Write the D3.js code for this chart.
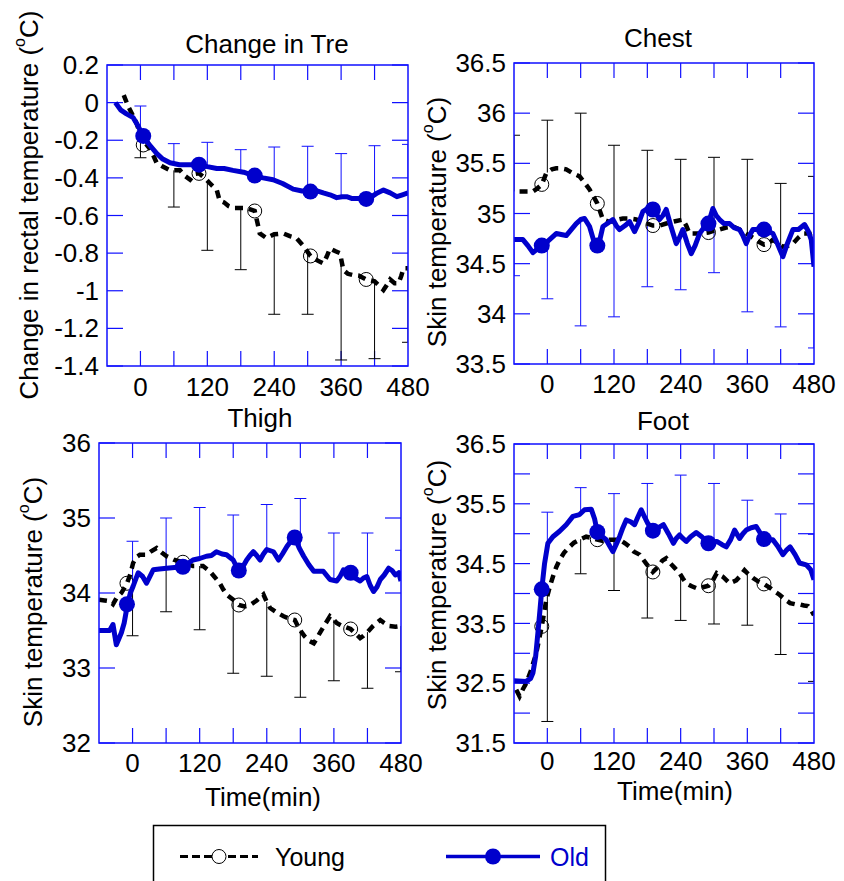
<!DOCTYPE html>
<html>
<head>
<meta charset="utf-8">
<title>Young vs Old - rectal and skin temperature</title>
<script src="https://cdnjs.cloudflare.com/ajax/libs/d3/7.9.0/d3.min.js"></script>
<style>
 body { margin: 0; background: #fff; }
 svg { display: block; font-family: Arial, "Liberation Sans", sans-serif; }
</style>
</head>
<body>
<svg width="844" height="881"></svg>
<script>
// time axis (min)
const timeDomain = [-60, 480];
const timeTickMarks = [0, 60, 120, 180, 240, 300, 360, 420];
const timeTickLabels = [0, 120, 240, 360, 480];

// ---- Change in Tre ----
const treTicks = [0.2, 0, -0.2, -0.4, -0.6, -0.8, -1, -1.2, -1.4];
const treLabels = treTicks;
const treOld = [[-45,0.0],[-35,-0.04],[-25,-0.06],[-13,-0.08],[-5,-0.12],[5,-0.18],[15,-0.22],[29,-0.27],[40,-0.30],[53,-0.32],[70,-0.33],[83,-0.33],[95,-0.33],[105,-0.33],[120,-0.34],[137,-0.35],[150,-0.35],[166,-0.36],[185,-0.37],[205,-0.39],[220,-0.40],[238,-0.41],[255,-0.43],[274,-0.46],[290,-0.47],[305,-0.47],[318,-0.47],[328,-0.48],[340,-0.49],[352,-0.505],[362,-0.50],[370,-0.50],[380,-0.51],[395,-0.51],[405,-0.51],[415,-0.50],[425,-0.48],[436,-0.465],[448,-0.48],[460,-0.50],[470,-0.49],[480,-0.48]];
const treYoung = [[-30,0.04],[-22,-0.02],[-15,-0.06],[-7,-0.11],[0,-0.17],[5,-0.225],[10,-0.22],[17,-0.245],[23,-0.28],[29,-0.32],[40,-0.34],[53,-0.36],[62,-0.36],[71,-0.36],[80,-0.39],[89,-0.41],[97,-0.38],[105,-0.376],[115,-0.40],[125,-0.43],[137,-0.465],[142,-0.52],[150,-0.53],[158,-0.55],[166,-0.56],[178,-0.56],[190,-0.56],[205,-0.576],[210,-0.64],[214,-0.695],[226,-0.72],[240,-0.70],[256,-0.695],[268,-0.71],[280,-0.72],[292,-0.76],[305,-0.815],[318,-0.84],[328,-0.855],[334,-0.82],[340,-0.775],[350,-0.79],[358,-0.80],[364,-0.89],[372,-0.91],[380,-0.916],[392,-0.92],[405,-0.94],[420,-0.95],[436,-0.996],[442,-0.97],[448,-0.94],[456,-0.96],[463,-0.96],[468,-0.92],[472,-0.88],[480,-0.88]];
const treOldMarks = [[5,-0.177],[105,-0.33],[205,-0.388],[305,-0.473],[405,-0.512]];
const treYoungMarks = [[5,-0.225],[105,-0.376],[205,-0.576],[305,-0.815],[405,-0.94]];
const treOldErr = [[0,-0.018],[60,-0.218],[120,-0.211],[180,-0.25],[240,-0.236],[300,-0.232],[360,-0.271],[420,-0.229],[480,-0.222]];
const treYoungErr = [[0,-0.293],[60,-0.555],[120,-0.785],[180,-0.888],[240,-1.125],[300,-1.125],[360,-1.368],[420,-1.361],[480,-1.274]];

// ---- Chest ----
const chestTicks = [33.5, 34, 34.5, 35, 35.5, 36, 36.5];
const chestLabels = chestTicks;
const chestOld = [[-60,34.74],[-44,34.74],[-35,34.68],[-26,34.61],[-10,34.68],[0,34.72],[8,34.76],[16,34.80],[25,34.79],[34,34.78],[43,34.84],[52,34.90],[60,34.94],[67,34.95],[76,34.87],[84,34.72],[90,34.68],[95,34.75],[100,34.87],[108,34.90],[118,34.94],[124,34.88],[130,34.84],[140,34.88],[148,34.92],[157,34.82],[164,34.90],[172,35.02],[180,35.05],[190,35.04],[196,35.00],[202,34.94],[208,34.98],[214,35.04],[222,34.88],[232,34.70],[238,34.76],[244,34.84],[252,34.70],[259,34.60],[266,34.68],[274,34.80],[282,34.86],[290,34.90],[298,35.05],[304,34.98],[310,34.94],[318,34.90],[328,34.90],[336,34.86],[346,34.84],[352,34.78],[358,34.70],[364,34.78],[370,34.84],[380,34.84],[390,34.84],[398,34.82],[406,34.80],[414,34.70],[424,34.57],[432,34.70],[442,34.84],[452,34.84],[463,34.89],[470,34.82],[475,34.74],[480,34.47]];
const chestYoung = [[-50,35.22],[-38,35.22],[-26,35.22],[-18,35.25],[-10,35.29],[-2,35.40],[8,35.44],[16,35.45],[25,35.45],[34,35.44],[46,35.40],[58,35.37],[68,35.30],[76,35.24],[84,35.16],[90,35.10],[95,35.02],[100,34.94],[110,34.92],[118,34.92],[128,34.94],[136,34.95],[148,34.95],[160,34.94],[175,34.91],[190,34.88],[202,34.88],[214,34.90],[228,34.92],[244,34.94],[250,34.88],[256,34.80],[265,34.80],[274,34.80],[290,34.81],[300,34.83],[310,34.84],[322,34.86],[334,34.87],[346,34.84],[358,34.80],[370,34.76],[380,34.72],[390,34.69],[398,34.70],[406,34.74],[416,34.70],[424,34.67],[434,34.68],[442,34.70],[452,34.76],[460,34.80],[472,34.80],[480,34.67]];
const chestOldMarks = [[-10,34.68],[90,34.68],[190,35.04],[290,34.90],[390,34.84]];
const chestYoungMarks = [[-10,35.29],[90,35.10],[190,34.88],[290,34.81],[390,34.69]];
const chestOldErr = [[-60,34.38],[0,34.15],[60,33.88],[120,33.97],[180,34.27],[240,34.24],[300,34.41],[360,34.02],[420,33.87],[480,33.66]];
const chestYoungErr = [[-60,35.78],[0,35.93],[60,36.0],[120,35.68],[180,35.63],[240,35.54],[300,35.56],[360,35.54],[420,35.3],[480,35.37]];

// ---- Thigh ----
const thighTicks = [32, 33, 34, 35, 36];
const thighLabels = thighTicks;
const thighOld = [[-60,33.50],[-41,33.50],[-35,33.58],[-29,33.31],[-20,33.47],[-15,33.60],[-9,33.85],[-4,34.00],[1,34.09],[10,34.27],[18,34.22],[25,34.13],[31,34.22],[37,34.31],[48,34.32],[61,34.33],[75,34.34],[90,34.35],[100,34.40],[108,34.44],[120,34.46],[132,34.49],[141,34.50],[150,34.55],[160,34.52],[168,34.51],[180,34.44],[186,34.35],[190,34.30],[198,34.36],[204,34.44],[210,34.50],[216,34.55],[222,34.50],[228,34.44],[234,34.52],[240,34.58],[252,34.55],[261,34.44],[268,34.52],[276,34.62],[284,34.70],[290,34.74],[298,34.60],[306,34.49],[315,34.38],[324,34.29],[333,34.29],[341,34.29],[353,34.18],[365,34.16],[371,34.22],[377,34.31],[390,34.27],[398,34.20],[407,34.16],[413,34.20],[419,34.22],[425,34.10],[431,34.02],[437,34.08],[443,34.18],[450,34.24],[458,34.33],[464,34.30],[470,34.24],[476,34.27],[480,34.16]];
const thighYoung = [[-60,33.91],[-50,33.90],[-41,33.89],[-35,33.85],[-29,33.93],[-20,34.00],[-10,34.13],[-4,34.25],[1,34.40],[7,34.48],[13,34.51],[25,34.51],[34,34.56],[43,34.60],[52,34.54],[61,34.49],[75,34.44],[90,34.41],[100,34.38],[108,34.36],[126,34.36],[138,34.29],[146,34.22],[156,34.13],[162,34.05],[168,33.98],[180,33.91],[190,33.84],[200,33.82],[210,33.84],[222,33.90],[234,33.98],[240,33.88],[246,33.80],[258,33.74],[270,33.69],[280,33.66],[290,33.64],[299,33.51],[308,33.42],[316,33.36],[324,33.33],[330,33.40],[335,33.47],[344,33.58],[353,33.69],[359,33.65],[365,33.60],[375,33.56],[390,33.52],[400,33.45],[407,33.40],[413,33.43],[419,33.47],[430,33.56],[443,33.64],[450,33.60],[458,33.56],[470,33.55],[480,33.56]];
const thighOldMarks = [[-10,33.85],[90,34.35],[190,34.30],[290,34.74],[390,34.27]];
const thighYoungMarks = [[-10,34.13],[90,34.41],[190,33.84],[290,33.64],[390,33.52]];
const thighOldErr = [[0,34.69],[60,35.0],[120,35.14],[180,35.04],[240,35.18],[300,35.26],[360,34.8],[420,34.8],[480,34.57]];
const thighYoungErr = [[0,33.43],[60,33.75],[120,33.51],[180,32.93],[240,32.89],[300,32.61],[360,32.83],[420,32.73],[480,32.95]];

// ---- Foot ----
const footTicks = [31.5, 32, 32.5, 33, 33.5, 34, 34.5, 35, 35.5, 36, 36.5];
const footLabels = [31.5, 32.5, 33.5, 34.5, 35.5, 36.5];
const footOld = [[-60,32.54],[-38,32.53],[-30,32.58],[-26,32.67],[-21,32.95],[-17,33.34],[-13,33.75],[-10,34.07],[-5,34.50],[1,34.84],[10,34.95],[22,35.04],[34,35.15],[46,35.29],[58,35.32],[67,35.40],[79,35.41],[85,35.25],[90,35.03],[98,34.96],[106,34.90],[112,34.80],[118,34.70],[124,34.82],[130,34.95],[136,35.10],[142,35.23],[150,35.20],[157,35.15],[163,35.28],[169,35.40],[175,35.28],[181,35.17],[190,35.05],[200,35.10],[209,35.15],[218,35.00],[227,34.84],[232,34.92],[238,34.98],[244,34.92],[250,34.87],[258,34.95],[268,35.02],[278,34.95],[290,34.84],[298,34.86],[305,34.87],[314,34.82],[322,34.78],[330,34.90],[337,35.06],[346,34.92],[352,35.00],[358,35.06],[367,35.10],[376,35.12],[384,35.00],[390,34.91],[398,34.90],[406,34.90],[414,34.80],[424,34.65],[430,34.72],[437,34.78],[446,34.65],[454,34.51],[466,34.48],[474,34.40],[480,34.23]];
const footYoung = [[-56,32.39],[-50,32.28],[-44,32.40],[-38,32.50],[-30,32.70],[-20,33.00],[-10,33.45],[-2,33.89],[4,34.10],[10,34.28],[16,34.44],[22,34.56],[30,34.68],[40,34.78],[48,34.85],[58,34.90],[70,34.95],[80,34.93],[90,34.90],[100,34.88],[112,34.90],[120,34.90],[130,34.90],[140,34.84],[148,34.78],[156,34.70],[166,34.65],[178,34.50],[190,34.36],[200,34.45],[207,34.55],[214,34.59],[222,34.50],[230,34.42],[238,34.34],[244,34.25],[250,34.17],[260,34.12],[268,34.09],[278,34.10],[290,34.13],[298,34.22],[305,34.34],[316,34.28],[328,34.17],[340,34.22],[348,34.30],[355,34.39],[362,34.32],[370,34.26],[380,34.20],[390,34.16],[400,34.10],[410,34.03],[418,33.98],[428,33.90],[437,33.84],[446,33.82],[454,33.82],[462,33.80],[469,33.79],[475,33.72],[480,33.64]];
const footOldMarks = [[-10,34.07],[90,35.03],[190,35.05],[290,34.84],[390,34.91]];
const footYoungMarks = [[-10,33.45],[90,34.90],[190,34.36],[290,34.13],[390,34.16]];
const footOldErr = [[0,35.36],[60,35.77],[120,35.67],[180,35.84],[240,35.98],[300,35.84],[360,35.56],[420,35.33],[480,34.99]];
const footYoungErr = [[0,31.86],[60,34.33],[120,34.05],[180,33.59],[240,33.55],[300,33.49],[360,33.47],[420,32.98],[480,32.53]];

const blue = "#0000cc";
const frameBlue = "#1010ff";
const fontSize = 26;

const svg = d3.select("svg");

const panels = [
 {id: "tre", title: "Change in Tre", box: [107, 65, 408, 366], titleXY: [267, 53],
  ylabel: "Change in rectal temperature", ylabelXY: [29, 205], xlabel: null, xOff: 30,
  yDomain: [-1.4, 0.2], ticks: treTicks, labels: treLabels,
  old: treOld, young: treYoung, oldMarks: treOldMarks, youngMarks: treYoungMarks,
  oldErr: treOldErr, youngErr: treYoungErr},
 {id: "chest", title: "Chest", box: [514, 63, 814, 364], titleXY: [658, 47],
  ylabel: "Skin temperature", ylabelXY: [437, 222], xlabel: null, xOff: 29,
  yDomain: [33.5, 36.5], ticks: chestTicks, labels: chestLabels,
  old: chestOld, young: chestYoung, oldMarks: chestOldMarks, youngMarks: chestYoungMarks,
  oldErr: chestOldErr, youngErr: chestYoungErr},
 {id: "thigh", title: "Thigh", box: [99, 443, 401, 743], titleXY: [260, 427],
  ylabel: "Skin temperature", ylabelXY: [33, 602], xlabel: [263, 806], xOff: 29,
  yDomain: [32, 36], ticks: thighTicks, labels: thighLabels,
  old: thighOld, young: thighYoung, oldMarks: thighOldMarks, youngMarks: thighYoungMarks,
  oldErr: thighOldErr, youngErr: thighYoungErr},
 {id: "foot", title: "Foot", box: [514, 444, 814, 743], titleXY: [663, 430],
  ylabel: "Skin temperature", ylabelXY: [437, 585], xlabel: [675, 800], xOff: 27,
  yDomain: [31.5, 36.5], ticks: footTicks, labels: footLabels,
  old: footOld, young: footYoung, oldMarks: footOldMarks, youngMarks: footYoungMarks,
  oldErr: footOldErr, youngErr: footYoungErr}
];

function valueAt(series, t) {
 if(t <= series[0][0]) return series[0][1];
 if(t >= series[series.length - 1][0]) return series[series.length - 1][1];
 const i = d3.bisector(d => d[0]).left(series, t);
 const a = series[i - 1], b = series[i];
 if(b[0] === t) return b[1];
 return a[1] + (b[1] - a[1]) * (t - a[0]) / (b[0] - a[0]);
}

const fmt = d => String(+d.toFixed(1));

panels.forEach(p => {
 const [x0, y0, x1, y1] = p.box;
 const x = d3.scaleLinear().domain(timeDomain).range([x0, x1]);
 const y = d3.scaleLinear().domain(p.yDomain).range([y1, y0]);
 const g = svg.append("g");

 g.append("clipPath").attr("id", "clip-" + p.id)
  .append("rect").attr("x", x0).attr("y", y0).attr("width", x1 - x0).attr("height", y1 - y0);

 // tick marks, inward on all four sides
 const ticks = g.append("g").attr("stroke", frameBlue).attr("stroke-width", 1.2);
 timeTickMarks.forEach(t => {
  ticks.append("line").attr("x1", x(t)).attr("x2", x(t)).attr("y1", y0).attr("y2", y0 + 15);
  ticks.append("line").attr("x1", x(t)).attr("x2", x(t)).attr("y1", y1).attr("y2", y1 - 15);
 });
 p.ticks.forEach(v => {
  ticks.append("line").attr("x1", x0).attr("x2", x0 + 16).attr("y1", y(v)).attr("y2", y(v));
  ticks.append("line").attr("x1", x1).attr("x2", x1 - 16).attr("y1", y(v)).attr("y2", y(v));
 });

 // tick labels
 g.selectAll(".ylab").data(p.labels).enter().append("text")
  .attr("x", x0 - 8).attr("y", d => y(d)).attr("dy", "0.35em")
  .attr("text-anchor", "end").attr("font-size", fontSize).text(fmt);
 g.selectAll(".xlab").data(timeTickLabels).enter().append("text")
  .attr("x", d => x(d)).attr("y", y1 + p.xOff)
  .attr("text-anchor", "middle").attr("font-size", fontSize).text(d => d);

 // titles
 g.append("text").attr("x", p.titleXY[0]).attr("y", p.titleXY[1])
  .attr("text-anchor", "middle").attr("font-size", fontSize).text(p.title);
 const yl = g.append("text")
  .attr("transform", `translate(${p.ylabelXY[0]},${p.ylabelXY[1]}) rotate(-90)`)
  .attr("text-anchor", "middle").attr("dominant-baseline", "central")
  .attr("font-size", fontSize);
 yl.append("tspan").text(p.ylabel + " (");
 yl.append("tspan").attr("font-size", fontSize * 0.62).attr("dy", -10).text("o");
 yl.append("tspan").attr("dy", 10).text("C)");
 if(p.xlabel) {
  g.append("text").attr("x", p.xlabel[0]).attr("y", p.xlabel[1])
   .attr("text-anchor", "middle").attr("font-size", fontSize).text("Time(min)");
 }

 const plot = g.append("g").attr("clip-path", `url(#clip-${p.id})`);
 const capW = 6;

 // error bars: young (black), old (blue)
 [[p.youngErr, p.young, "#000"], [p.oldErr, p.old, frameBlue]].forEach(([err, series, col]) => {
  const eg = plot.append("g").attr("stroke", col).attr("stroke-width", 1);
  err.forEach(([t, end]) => {
   eg.append("line").attr("x1", x(t)).attr("x2", x(t))
    .attr("y1", y(valueAt(series, t))).attr("y2", y(end));
   eg.append("line").attr("x1", x(t) - capW).attr("x2", x(t) + capW)
    .attr("y1", y(end)).attr("y2", y(end));
  });
 });

 const line = d3.line().x(d => x(d[0])).y(d => y(d[1]));

 plot.append("path").datum(p.young).attr("d", line)
  .attr("fill", "none").attr("stroke", "#000").attr("stroke-width", 4.5)
  .attr("stroke-dasharray", "8,6");
 plot.selectAll(".ym").data(p.youngMarks).enter().append("circle")
  .attr("cx", d => x(d[0])).attr("cy", d => y(d[1])).attr("r", 7)
  .attr("fill", "none").attr("stroke", "#000").attr("stroke-width", 1);

 plot.append("path").datum(p.old).attr("d", line)
  .attr("fill", "none").attr("stroke", blue).attr("stroke-width", 5)
  .attr("stroke-linejoin", "round");
 plot.selectAll(".om").data(p.oldMarks).enter().append("circle")
  .attr("cx", d => x(d[0])).attr("cy", d => y(d[1])).attr("r", 8)
  .attr("fill", blue);

 // frame
 g.append("rect").attr("x", x0).attr("y", y0).attr("width", x1 - x0).attr("height", y1 - y0)
  .attr("fill", "none").attr("stroke", frameBlue).attr("stroke-width", 1.5);
});

// legend
const lg = svg.append("g");
lg.append("rect").attr("x", 153.5).attr("y", 825.5).attr("width", 452).attr("height", 80)
 .attr("fill", "#fff").attr("stroke", "#000").attr("stroke-width", 1.5);
lg.append("line").attr("x1", 180).attr("x2", 258).attr("y1", 856.5).attr("y2", 856.5)
 .attr("stroke", "#000").attr("stroke-width", 3).attr("stroke-dasharray", "8,4");
lg.append("circle").attr("cx", 219).attr("cy", 856.5).attr("r", 7)
 .attr("fill", "#fff").attr("stroke", "#000").attr("stroke-width", 1);
lg.append("text").attr("x", 275).attr("y", 866).attr("font-size", fontSize - 1).text("Young");
lg.append("line").attr("x1", 446).attr("x2", 540).attr("y1", 856.5).attr("y2", 856.5)
 .attr("stroke", blue).attr("stroke-width", 3.5);
lg.append("circle").attr("cx", 493).attr("cy", 856.5).attr("r", 8).attr("fill", blue);
lg.append("text").attr("x", 550).attr("y", 866).attr("font-size", fontSize - 1)
 .attr("fill", blue).text("Old");
</script>
</body>
</html>
